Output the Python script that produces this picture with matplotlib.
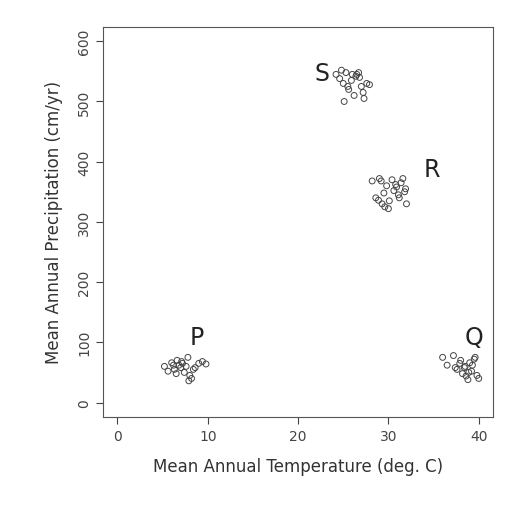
import matplotlib
matplotlib.use("Agg")
import matplotlib.pyplot as plt

# cluster points (temperature, precipitation)
p_temp = [5.2, 5.6, 6.0, 6.3, 6.6, 6.8, 7.0, 7.2, 7.4, 7.6, 7.8, 8.0, 8.2, 8.4, 6.5, 7.1, 9.0, 9.4, 9.8, 7.9, 6.2, 8.6]
p_prec = [60, 52, 66, 55, 70, 62, 58, 65, 50, 60, 75, 45, 40, 55, 48, 68, 65, 68, 64, 36, 62, 58]
q_temp = [36.0, 36.5, 37.2, 37.6, 38.0, 38.2, 38.5, 38.8, 39.0, 39.2, 39.5, 39.8, 40.0, 38.4, 37.9, 39.6, 38.9, 39.3, 37.4, 38.6]
q_prec = [75, 62, 78, 55, 70, 48, 60, 38, 66, 52, 72, 45, 40, 58, 65, 75, 50, 62, 58, 44]
r_temp = [28.2, 28.6, 29.0, 29.3, 29.6, 29.8, 30.1, 30.4, 30.6, 30.9, 31.1, 31.4, 31.6, 31.8, 32.0, 29.2, 30.0, 31.2, 30.8, 31.9, 29.5, 28.9]
r_prec = [368, 340, 372, 330, 325, 360, 335, 370, 352, 358, 345, 365, 372, 350, 330, 368, 322, 340, 362, 355, 348, 336]
s_temp = [24.2, 24.6, 25.0, 25.3, 25.6, 25.9, 26.2, 26.5, 26.8, 27.0, 27.3, 27.6, 27.9, 25.1, 26.0, 26.7, 27.2, 24.8, 25.5, 26.4]
s_prec = [545, 538, 530, 548, 520, 535, 510, 545, 540, 525, 505, 530, 528, 500, 545, 548, 515, 552, 525, 542]

labels = ["P", "Q", "R", "S"]
label_x = [8.8, 39.5, 34.8, 22.6]
label_y = [108, 108, 388, 548]

fig, ax = plt.subplots(figsize=(5.23, 5.06), dpi=100)
fig.subplots_adjust(left=0.197, right=0.943, bottom=0.174, top=0.945)

for t, p in [(p_temp, p_prec), (q_temp, q_prec), (r_temp, r_prec), (s_temp, s_prec)]:
    ax.scatter(t, p, s=18, facecolors="none", edgecolors="#444444", linewidths=0.7)

for lab, lx, ly in zip(labels, label_x, label_y):
    ax.text(lx, ly, lab, fontsize=17, ha="center", va="center", color="#222222")

ax.set_xlim(-1.6, 41.6)
ax.set_ylim(-24, 624)
ax.set_xticks([0, 10, 20, 30, 40])
ax.set_yticks([0, 100, 200, 300, 400, 500, 600])
ax.tick_params(labelsize=10, colors="#444444", length=5)
ax.tick_params(axis="y", labelrotation=90)
for lab in ax.get_yticklabels():
    lab.set_va("center")
for sp in ax.spines.values():
    sp.set_color("#555555")
ax.set_xlabel("Mean Annual Temperature (deg. C)", fontsize=12, color="#333333", labelpad=10)
ax.set_ylabel("Mean Annual Precipitation (cm/yr)", fontsize=12, color="#333333", labelpad=10)

plt.savefig("out.png", dpi=100)
